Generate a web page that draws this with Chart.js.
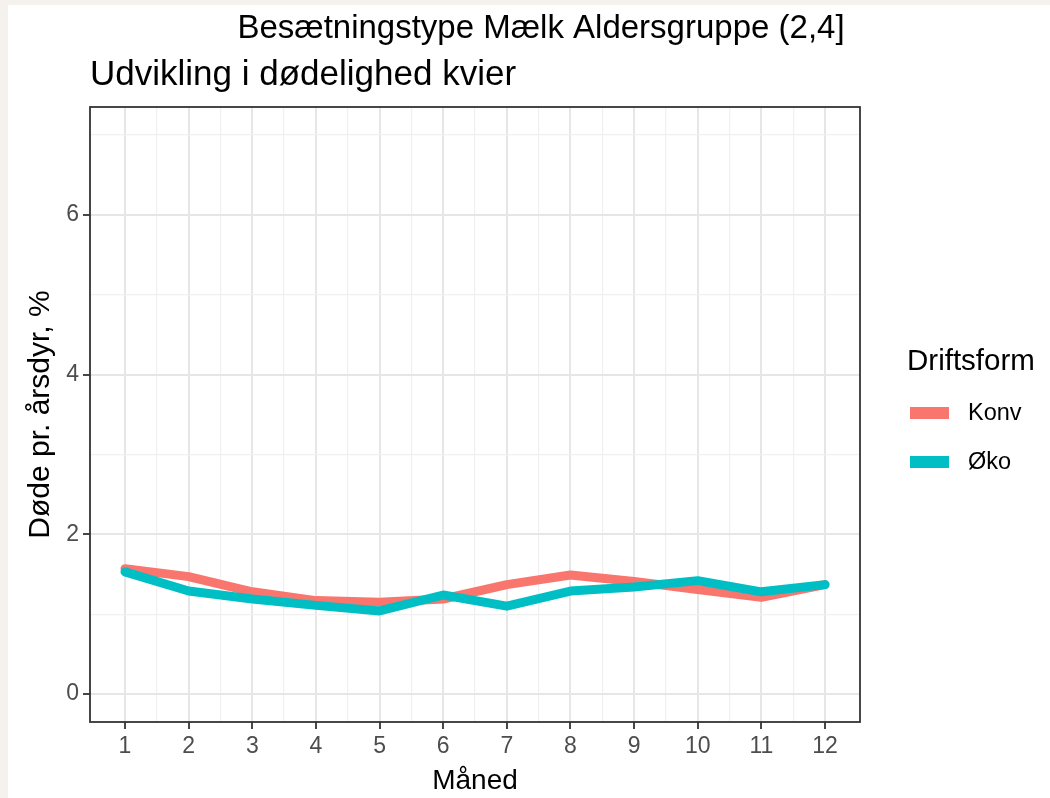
<!doctype html>
<html>
<head>
    <title>Udvikling i dødelighed kvier</title>
    <script src="https://cdn.jsdelivr.net/npm/chart.js@4/dist/chart.umd.min.js"></script>
    <style>
    body { margin: 0; background: #f5f2ee; }
    #wrap { position: absolute; left: 8px; top: 5px; width: 1042px; height: 793px; background: #fff; }
    </style>
</head>
<body>
    <div id="wrap">
        <canvas id="canvas" width="1042" height="793"></canvas>
    </div>
    <script>
    var months = [1, 2, 3, 4, 5, 6, 7, 8, 9, 10, 11, 12];
    var konv = [1.57, 1.47, 1.28, 1.17, 1.15, 1.19, 1.37, 1.49, 1.41, 1.31, 1.21, 1.37];
    var oko = [1.53, 1.29, 1.19, 1.11, 1.04, 1.24, 1.10, 1.29, 1.34, 1.42, 1.28, 1.37];
    var yTicks = [0, 1, 2, 3, 4, 5, 6, 7];
    var xTicks = [1, 1.5, 2, 2.5, 3, 3.5, 4, 4.5, 5, 5.5, 6, 6.5, 7, 7.5, 8, 8.5, 9, 9.5, 10, 10.5, 11, 11.5, 12];

    var red = '#F8766D', teal = '#00BFC4';
    var font = "'Liberation Sans', Arial, sans-serif";

    function pts(ys) {
        return months.map(function (m, i) { return { x: m, y: ys[i] }; });
    }

    // ggplot-like text, legend and panel border
    var decor = {
        id: 'decor',
        afterDatasetsDraw: function (chart) {
            var c = chart.ctx, a = chart.chartArea;
            c.save();
            c.strokeStyle = '#333';
            c.lineWidth = 1.8;
            c.strokeRect(a.left, a.top, a.right - a.left, a.bottom - a.top);
            c.restore();
        },
        afterDraw: function (chart) {
            var c = chart.ctx, a = chart.chartArea;
            c.save();
            c.fillStyle = '#000';
            c.textBaseline = 'alphabetic';
            c.font = '33px ' + font;
            c.textAlign = 'center';
            c.fillText('Besætningstype Mælk Aldersgruppe (2,4]', 533, 33);
            c.font = '35px ' + font;
            c.textAlign = 'left';
            c.fillText('Udvikling i dødelighed kvier', a.left, 80);

            c.font = '28px ' + font;
            c.textAlign = 'center';
            c.fillText('Måned', (a.left + a.right) / 2, 784);
            c.save();
            c.font = '30px ' + font;
            c.translate(41, (a.top + a.bottom) / 2);
            c.rotate(-Math.PI / 2);
            c.fillText('Døde pr. årsdyr, %', 0, 0);
            c.restore();

            // legend
            c.textAlign = 'left';
            c.font = '29.5px ' + font;
            c.fillText('Driftsform', 899, 365);
            var items = [['Konv', red], ['Øko', teal]];
            c.font = '23.5px ' + font;
            c.textBaseline = 'middle';
            items.forEach(function (it, i) {
                var y = 408 + i * 49;
                c.fillStyle = it[1];
                c.fillRect(902, y - 6, 39, 12);
                c.fillStyle = '#000';
                c.fillText(it[0], 960, y + 1);
            });
            c.restore();
        }
    };

    var config = {
        type: 'line',
        data: {
            datasets: [{
                label: 'Konv',
                data: pts(konv),
                borderColor: red,
                borderWidth: 9,
                pointRadius: 0,
                borderCapStyle: 'round',
                borderJoinStyle: 'round',
                tension: 0,
                order: 2
            }, {
                label: 'Øko',
                data: pts(oko),
                borderColor: teal,
                borderWidth: 9,
                pointRadius: 0,
                borderCapStyle: 'round',
                borderJoinStyle: 'round',
                tension: 0,
                order: 1
            }]
        },
        options: {
            responsive: false,
            animation: false,
            layout: { padding: { left: 0, top: 102, right: 190, bottom: 26 } },
            plugins: {
                legend: { display: false },
                title: { display: false },
                tooltip: { enabled: false }
            },
            scales: {
                x: {
                    type: 'linear',
                    min: 0.45,
                    max: 12.55,
                    afterBuildTicks: function (s) {
                        s.ticks = xTicks.map(function (v) { return { value: v }; });
                    },
                    afterFit: function (s) { s.height = 50; },
                    border: { display: false },
                    grid: {
                        color: function (ctx) { return ctx.tick && ctx.tick.value % 1 ? '#f0f0f0' : '#e6e6e6'; },
                        lineWidth: function (ctx) { return ctx.tick && ctx.tick.value % 1 ? 1.2 : 2; },
                        tickColor: function (ctx) { return ctx.tick && ctx.tick.value % 1 ? 'rgba(0,0,0,0)' : '#333'; },
                        tickLength: 7,
                        tickWidth: 1.8
                    },
                    ticks: {
                        autoSkip: false,
                        maxRotation: 0,
                        padding: 4,
                        color: '#4d4d4d',
                        font: { family: font, size: 23 },
                        callback: function (v) { return v % 1 ? '' : v; }
                    }
                },
                y: {
                    min: -0.35,
                    max: 7.35,
                    afterBuildTicks: function (s) {
                        s.ticks = yTicks.map(function (v) { return { value: v }; });
                    },
                    afterFit: function (s) { s.width = 82; },
                    border: { display: false },
                    grid: {
                        color: function (ctx) { return ctx.tick && ctx.tick.value % 2 ? '#f0f0f0' : '#e6e6e6'; },
                        lineWidth: function (ctx) { return ctx.tick && ctx.tick.value % 2 ? 1.2 : 2; },
                        tickColor: function (ctx) { return ctx.tick && ctx.tick.value % 2 ? 'rgba(0,0,0,0)' : '#333'; },
                        tickLength: 7,
                        tickWidth: 1.8
                    },
                    ticks: {
                        autoSkip: false,
                        padding: 4,
                        color: '#4d4d4d',
                        font: { family: font, size: 23 },
                        callback: function (v) { return v % 2 ? '' : v; }
                    }
                }
            }
        },
        plugins: [decor]
    };

    window.onload = function () {
        window.myChart = new Chart(document.getElementById('canvas'), config);
    };
    </script>
</body>
</html>
